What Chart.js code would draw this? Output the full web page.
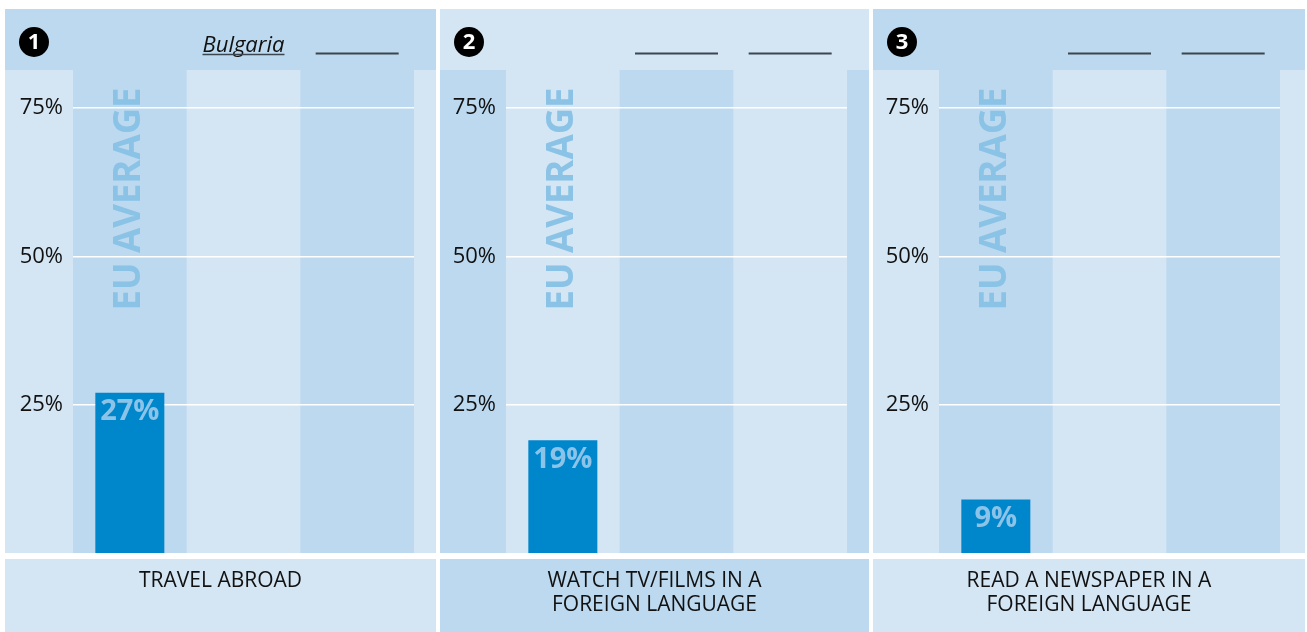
<!DOCTYPE html>
<html>
<head>
<meta charset="utf-8">
<script src="https://cdn.jsdelivr.net/npm/chart.js@4.4.1/dist/chart.umd.min.js"></script>
<style>
  body { margin: 0; background: #fff; width: 1307px; height: 632px; overflow: hidden; position: relative; }
  canvas { position: absolute; top: 9px; }
</style>
</head>
<body>
<canvas id="panel1"></canvas>
<canvas id="panel2"></canvas>
<canvas id="panel3"></canvas>
<script>
// chart data
const activities = [["TRAVEL ABROAD"], ["WATCH TV/FILMS IN A", "FOREIGN LANGUAGE"], ["READ A NEWSPAPER IN A", "FOREIGN LANGUAGE"]];
const columns = ["EU AVERAGE", "Bulgaria", ""];
const euAverage = [27, 19, 9];
const countryNames = [["Bulgaria", ""], ["", ""], ["", ""]];
const yTicks = [25, 50, 75];
const yMax = 81.4;

const dark = "#bcd9ef";
const light = "#d4e5f4";
const font = "'Open Sans', 'Noto Sans', sans-serif";

const panels = [
  { left: 5, width: 431, axisWidth: 68, padRight: 22, flip: false },
  { left: 440, width: 429, axisWidth: 66, padRight: 22, flip: true },
  { left: 873, width: 432, axisWidth: 66, padRight: 25, flip: false },
];

const decor = {
  id: "decor",
  beforeDraw(chart, args, opts) {
    const { ctx, chartArea: a, width, height } = chart;
    const x = chart.scales.x;
    const even = opts.flip ? light : dark;
    const odd = opts.flip ? dark : light;
    ctx.save();
    ctx.fillStyle = "#fff";
    ctx.fillRect(0, 0, width, height);
    ctx.fillStyle = even;
    ctx.fillRect(0, 0, width, a.top);
    ctx.fillStyle = odd;
    ctx.fillRect(0, a.top, width, a.bottom - a.top);
    ctx.fillRect(0, a.bottom + 6, width, height - a.bottom - 6);
    const cw = a.width / columns.length;
    ctx.fillStyle = even;
    columns.forEach((c, j) => {
      if (j % 2 === 0) ctx.fillRect(x.getPixelForValue(j) - cw / 2, a.top, cw, a.height);
    });
    ctx.restore();
  },
  afterDatasetsDraw(chart, args, opts) {
    const { ctx, width } = chart;
    const x = chart.scales.x;
    const i = opts.index;
    ctx.save();

    // rotated column label
    ctx.save();
    ctx.translate(x.getPixelForValue(0), 190);
    ctx.rotate(-Math.PI / 2);
    ctx.fillStyle = "#8bc3e6";
    ctx.font = "bold 37px " + font;
    ctx.textAlign = "center";
    ctx.textBaseline = "middle";
    ctx.fillText(columns[0], 0, 0, 223);
    ctx.restore();

    // value label inside bar
    const bar = chart.getDatasetMeta(0).data[0];
    ctx.fillStyle = "#8cc4e9";
    ctx.font = "bold 29px " + font;
    ctx.textAlign = "center";
    ctx.textBaseline = "middle";
    ctx.fillText(euAverage[i] + "%", bar.x, bar.y + 19);

    // header: number + names / blanks
    ctx.fillStyle = "#000";
    ctx.beginPath();
    ctx.arc(29, 33, 15, 0, Math.PI * 2);
    ctx.fill();
    ctx.fillStyle = "#fff";
    ctx.font = "bold 22px " + font;
    ctx.fillText(String(i + 1), 29, 34);

    countryNames[i].forEach((name, k) => {
      const cx = x.getPixelForValue(k + 1);
      ctx.strokeStyle = "#3b4651";
      if (name) {
        ctx.fillStyle = "#111";
        ctx.font = "italic 22px " + font;
        ctx.textBaseline = "alphabetic";
        ctx.fillText(name, cx, 43);
        const w = ctx.measureText(name).width;
        ctx.lineWidth = 1.3;
        ctx.beginPath();
        ctx.moveTo(cx - w / 2, 45.5);
        ctx.lineTo(cx + w / 2, 45.5);
        ctx.stroke();
      } else {
        ctx.lineWidth = 2;
        ctx.beginPath();
        ctx.moveTo(cx - 41.5, 44.5);
        ctx.lineTo(cx + 41.5, 44.5);
        ctx.stroke();
      }
    });

    // category label
    ctx.fillStyle = "#111";
    ctx.font = "21px " + font;
    ctx.textBaseline = "middle";
    activities[i].forEach((line, k) => {
      ctx.fillText(line, width / 2, 572 + k * 24);
    });
    ctx.restore();
  }
};

panels.forEach((p, i) => {
  const canvas = document.getElementById("panel" + (i + 1));
  canvas.width = p.width;
  canvas.height = 623;
  canvas.style.width = p.width + "px";
  canvas.style.height = "623px";
  canvas.style.left = p.left + "px";
  new Chart(canvas, {
    type: "bar",
    data: {
      labels: columns,
      datasets: [{
        data: [euAverage[i], null, null],
        backgroundColor: "#0087cb",
        barPercentage: 0.607,
        categoryPercentage: 1,
      }],
    },
    options: {
      responsive: false,
      animation: false,
      devicePixelRatio: 1,
      layout: { padding: { top: 61, right: p.padRight, bottom: 79, left: 0 } },
      plugins: {
        legend: { display: false },
        tooltip: { enabled: false },
        decor: { flip: p.flip, index: i },
      },
      scales: {
        x: { display: false },
        y: {
          min: 0,
          max: yMax,
          afterBuildTicks: (s) => { s.ticks = yTicks.map((v) => ({ value: v })); },
          afterFit: (s) => { s.width = p.axisWidth; },
          grid: { color: "#fff", lineWidth: 1.5, drawTicks: false },
          border: { display: false },
          ticks: { padding: 10, color: "#111", font: { family: font, size: 22 }, callback: (v) => v + "%" },
        },
      },
    },
    plugins: [decor],
  });
});
</script>
</body>
</html>
